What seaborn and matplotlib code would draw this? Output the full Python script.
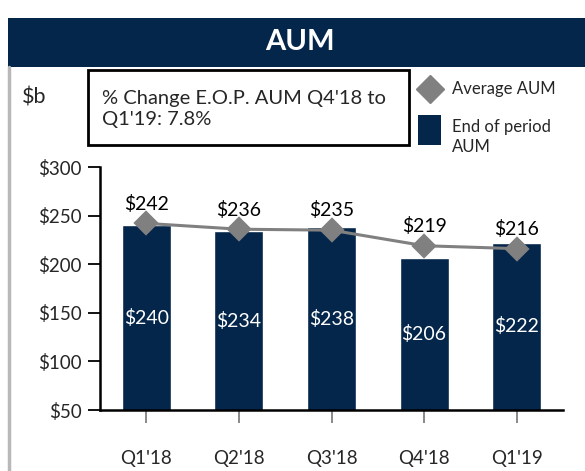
import matplotlib
matplotlib.use("Agg")

import matplotlib.pyplot as plt
import seaborn as sns
from matplotlib.patches import Rectangle
from matplotlib.lines import Line2D

# Data
quarters = ["Q1'18", "Q2'18", "Q3'18", "Q4'18", "Q1'19"]
eop_aum = [240, 234, 238, 206, 222]
avg_aum = [242, 236, 235, 219, 216]
y_ticks = [50, 100, 150, 200, 250, 300]

navy = "#03264A"
gray = "#808080"

sns.set_style("white")
plt.rcParams["font.family"] = ["Lato", "DejaVu Sans"]

W, H = 585, 471
fig = plt.figure(figsize=(W / 100, H / 100), dpi=100)


def fx(px):
    return px / W


def fy(py):
    return 1 - py / H


# Header band + frame
fig.patches.append(Rectangle((fx(8), fy(67)), fx(577), 49 / H, transform=fig.transFigure,
                             facecolor=navy, edgecolor="none"))
fig.text(fx(300), fy(42), "AUM", color="white", fontsize=21, fontweight="bold",
         ha="center", va="center")
fig.lines.append(Line2D([fx(9), fx(9)], [fy(67), 0], transform=fig.transFigure,
                        color="#b8b8b8", lw=2.5))

# Main axes
ax = fig.add_axes([fx(100), fy(410), fx(463), 243 / H])
sns.barplot(x=quarters, y=eop_aum, color=navy, width=0.53, saturation=1, ax=ax)
sns.pointplot(x=quarters, y=avg_aum, color=gray, markers="D", markersize=11,
              linewidth=2.2, ax=ax)

ax.set_ylim(50, 300)
ax.set_xlim(-0.5, 4.5)
ax.set_yticks(y_ticks)
ax.set_yticklabels([f"${v}" for v in y_ticks], fontsize=13.5)
ax.set_xticks(range(len(quarters)))
ax.set_xticklabels(quarters, fontsize=13.5)
for s in ["top", "right"]:
    ax.spines[s].set_visible(False)
for s in ["left", "bottom"]:
    ax.spines[s].set_color("black")
    ax.spines[s].set_linewidth(1.8)
ax.tick_params(axis="y", direction="out", length=9, width=1.3, color="black", pad=4, left=True)
ax.tick_params(axis="x", direction="out", length=9, width=1.3, color="#808080", pad=20, bottom=True)
ax.set_xlabel("")
ax.set_ylabel("")

for i, (e, a) in enumerate(zip(eop_aum, avg_aum)):
    ax.text(i, (50 + e) / 2, f"${e}", color="white", fontsize=14, ha="center", va="center")
    ax.text(i, a + 11, f"${a}", color="black", fontsize=14, ha="center", va="bottom")

# Unit label and note box
fig.text(fx(22), fy(98), "$b", fontsize=15.5, va="center", ha="left")
fig.patches.append(Rectangle((fx(88), fy(145)), fx(321), 75 / H, transform=fig.transFigure,
                             facecolor="white", edgecolor="black", lw=2))
fig.text(fx(102), fy(109), "% Change E.O.P. AUM Q4'18 to\nQ1'19: 7.8%", fontsize=14.5,
         va="center", ha="left", linespacing=1.25)

# Legend
fig.lines.append(Line2D([fx(430)], [fy(89)], transform=fig.transFigure, marker="D",
                        markersize=14, color=gray, linestyle="none"))
fig.text(fx(452), fy(89), "Average AUM", fontsize=12, va="center", ha="left")
fig.patches.append(Rectangle((fx(418), fy(145)), fx(23), 30 / H, transform=fig.transFigure,
                             facecolor=navy, edgecolor="none"))
fig.text(fx(452), fy(137), "End of period\nAUM", fontsize=12, va="center", ha="left",
         linespacing=1.25)

fig.savefig("out.png", dpi=100)
